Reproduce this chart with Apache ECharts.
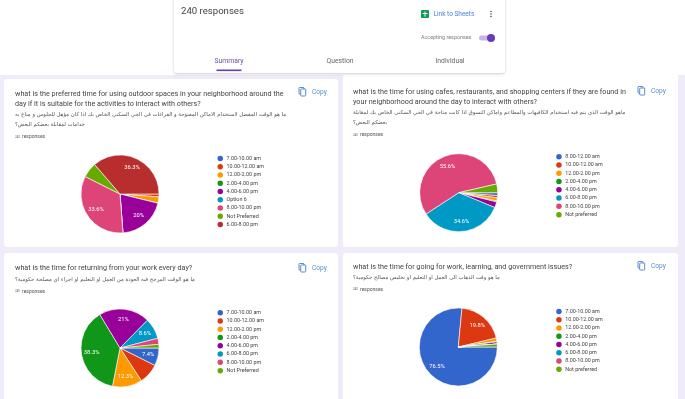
<!DOCTYPE html>
<html><head><meta charset="utf-8">
<style>html,body{margin:0;padding:0;background:#f0ebf8}#c{width:685px;height:399px;filter:blur(0.45px)}</style>
<script src="https://cdn.jsdelivr.net/npm/echarts@6/dist/echarts.min.js"></script>
</head><body><div id="c"></div>
<script>
const palette=['#3366cc','#dc3912','#ff9900','#109618','#990099','#0099c6','#dd4477','#66aa00','#b82e2e'];
const names1=['7.00-10.00 am','10.00-12.00 am','12.00-2.00 pm','2.00-4.00 pm','4.00-6.00 pm','Option 6','8.00-10.00 pm','Not Preferred','6.00-8.00 pm'];
const values1=[0,1.2,2.6,0,20,0,33.6,6.3,36.3];
const labels1=['','','','','20%','','33.6%','','36.3%'];
const names2=['8.00-12.00 am','10.00-12.00 am','12.00-2.00 pm','2.00-4.00 pm','4.00-6.00 pm','6.00-8.00 pm','8.00-10.00 pm','Not preferred'];
const values2=[1.2,0.9,1.3,0.4,2.4,34.6,55.6,3.6];
const labels2=['','','','','','34.6%','55.6%',''];
const names3=['7.00-10.00 am','10.00-12.00 am','12.00-2.00 pm','2.00-4.00 pm','4.00-6.00 pm','6.00-8.00 pm','8.00-10.00 pm','Not Preferred'];
const values3=[7.4,8.4,12.3,38.3,21,8.6,2.5,1.5];
const labels3=['7.4%','','12.3%','38.3%','21%','8.6%','',''];
const names4=['7.00-10.00 am','10.00-12.00 am','12.00-2.00 pm','2.00-4.00 pm','4.00-6.00 pm','6.00-8.00 pm','8.00-10.00 pm','Not preferred'];
const values4=[76.5,19.8,1.4,0.2,0.9,0,0,1.2];
const labels4=['76.5%','19.8%','','','','','',''];
const q1=['what is the preferred time for using outdoor spaces in your neighborhood around the','day if it is suitable for the activities to interact with others?'];
const ar1=['ما هو الوقت المفضل لاستخدام الاماكن المفتوحة و الفراغات في الحي السكني الخاص بك اذا كان مؤهل للجلوس و مناخ به','خدامات لمقابلة بعضكم البعض؟'];
const q2=['what is the time for using cafes, restaurants, and shopping centers if they are found in','your neighborhood around the day to interact with others?'];
const ar2=['ماهو الوقت الذي يتم فيه استخدام الكافيهات والمطاعم واماكن التسوق اذا كانت متاحة في الحي السكني الخاص بك لمقابلة','بعضكم البعض؟'];
const q3=['what is the time for returning from your work every day?'];
const ar3=['ما هو الوقت المرجح فيه العودة من العمل او التعليم او اجراء اي مصلحة حكومية؟'];
const q4=['what is the time for going for work, learning, and government issues?'];
const ar4=['ما هو وقت الذهاب الى العمل او التعليم او تخليص مصالح حكومية؟'];
const font='Roboto';
const cards=[
 {names:names1,values:values1,labels:labels1,q:q1,ar:ar1,box:[4,79,334,168],tx:15,qy:[93.7,104],ay:[114.3,125],ry:137,cx:120,cy:194,lx:216,ly:157.7,ix:302,iy:92},
 {names:names2,values:values2,labels:labels2,q:q2,ar:ar2,box:[343,72,335,175],tx:353,qy:[91.7,101.7],ay:[112.7,122.7],ry:135,cx:458.7,cy:192.7,lx:554.7,ly:156,ix:641,iy:91},
 {names:names3,values:values3,labels:labels3,q:q3,ar:ar3,box:[4,253,334,150],tx:15,qy:[268],ay:[279.3],ry:291.3,cx:120,cy:348,lx:216,ly:312,ix:302,iy:268},
 {names:names4,values:values4,labels:labels4,q:q4,ar:ar4,box:[343,253,335,150],tx:353,qy:[267],ay:[277.7],ry:289.3,cx:458.3,cy:347,lx:554.7,ly:310.7,ix:641,iy:266}
];
const txt=(x,y,s,size,fill,extra={})=>({type:'text',x,y,z:5,silent:true,style:Object.assign({text:s,fontSize:size,fontFamily:font,fill,verticalAlign:'middle',align:'left'},extra)});
const rect=(x,y,w,h,fill,r=0,z=1,extra={})=>({type:'rect',z,silent:true,shape:{x,y,width:w,height:h,r},style:Object.assign({fill},extra)});
const g=[];
g.push(rect(0,0,685,75,'#ffffff',0,0));
g.push(rect(174,-6,331,79,'#ffffff',3,2,{shadowBlur:3,shadowColor:'rgba(60,40,110,0.25)',shadowOffsetY:1}));
g.push(txt(181,12,'240 responses',9.6,'#444444'));
g.push(rect(421,10,8,8,'#0f9d58',1,5));
g.push(rect(422.5,13,5,1,'#ffffff',0,6));
g.push(rect(424.5,11.5,1,5,'#ffffff',0,6));
g.push(txt(433.5,14,'Link to Sheets',6.5,'#4a80d8'));
[11.5,14,16.5].forEach(y=>g.push({type:'circle',z:5,silent:true,shape:{cx:491,cy:y,r:0.8},style:{fill:'#555555'}}));
g.push(txt(421,38,'Accepting responses',5.4,'#808080'));
g.push(rect(479,35.5,14,5,'#c5b6e3',2.5,5));
g.push({type:'circle',z:6,silent:true,shape:{cx:491,cy:38,r:4},style:{fill:'#673ab7'}});
g.push(txt(229,61,'Summary',6.8,'#6a4fa5',{align:'center'}));
g.push(txt(340,61,'Question',6.8,'#666666',{align:'center'}));
g.push(txt(450,61,'Individual',6.8,'#666666',{align:'center'}));
g.push(rect(216.5,69.5,25,1.6,'#673ab7',0,5));
const series=[],legend=[];
cards.forEach(c=>{
 g.push(rect(c.box[0],c.box[1],c.box[2],c.box[3],'#ffffff',3,1));
 c.q.forEach((s,i)=>g.push(txt(c.tx,c.qy[i],s,7.2,'#444444')));
 c.ar.forEach((s,i)=>g.push(txt(c.tx,c.ay[i],s,5.4,'#555555',{fontFamily:'DejaVu Sans',align:'left'})));
 g.push(txt(c.tx,c.ry,'240',2.8,'#555555'));
 g.push(txt(c.tx+7,c.ry,'responses',5,'#555555'));
 g.push(rect(c.ix-3,c.iy-4.5,5,6.5,'#ffffff',0.6,5,{stroke:'#4a80c8',lineWidth:0.9}));
 g.push(rect(c.ix-1.3,c.iy-3,5,7,'#ffffff',0.6,6,{stroke:'#4a80c8',lineWidth:0.9}));
 g.push(txt(c.ix+10,c.iy+0.5,'Copy',6.6,'#5a8fd0'));
 series.push({type:'pie',center:[c.cx,c.cy],radius:[0,39],startAngle:0,clockwise:true,animation:false,silent:true,z:3,
  itemStyle:{borderColor:'#ffffff',borderWidth:0.6},
  data:c.names.map((n,i)=>({name:n,value:c.values[i],itemStyle:{color:palette[i]}})),
  label:{show:true,position:'inside',fontFamily:font,fontSize:5.8,color:'#ffffff',formatter:p=>c.labels[p.dataIndex]},
  labelLine:{show:false},
  labelLayout:p=>{const mx=p.labelRect.x+p.labelRect.width/2,my=p.labelRect.y+p.labelRect.height/2;
    return {x:c.cx+(mx-c.cx)*1.28,y:c.cy+(my-c.cy)*1.28,align:'center',verticalAlign:'middle'};}
 });
 legend.push({show:true,orient:'vertical',left:c.lx-0.5,top:c.ly-4,padding:0,itemWidth:7.5,itemHeight:7.5,itemGap:-1.23,icon:'circle',selectedMode:false,
  textStyle:{fontFamily:font,fontSize:5.4,color:'#444444',lineHeight:6,padding:[0,0,0,-2.5]},
  data:c.names.map((n,i)=>({name:n,itemStyle:{color:palette[i]}}))});
});
const chart=echarts.init(document.getElementById('c'),null,{renderer:'canvas'});
chart.setOption({backgroundColor:'#f0ebf8',animation:false,legend,series,graphic:{elements:g}});
</script></body></html>
